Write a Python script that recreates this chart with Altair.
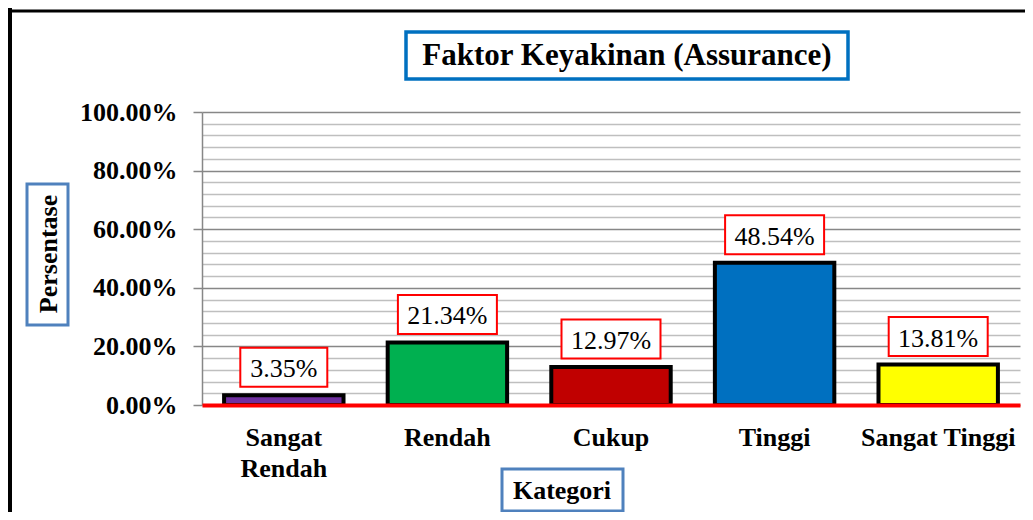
import altair as alt
import pandas as pd

categories = ["Sangat Rendah", "Rendah", "Cukup", "Tinggi", "Sangat Tinggi"]
values = [3.35, 21.34, 12.97, 48.54, 13.81]
labels = ["3.35%", "21.34%", "12.97%", "48.54%", "13.81%"]
colors = ["#7030A0", "#00B050", "#C00000", "#0070C0", "#FFFF00"]

title_text = "Faktor Keyakinan (Assurance)"
y_title = "Persentase"
x_title = "Kategori"

df = pd.DataFrame({"kategori": categories, "nilai": values, "label": labels, "warna": colors})
one = pd.DataFrame({"a": [0]})

FONT = "Liberation Serif"

x_enc = alt.X(
    "kategori:N",
    sort=categories,
    scale=alt.Scale(paddingInner=0.27, paddingOuter=0.135),
    axis=alt.Axis(
        title=None,
        labelExpr="datum.label == 'Sangat Rendah' ? ['Sangat', 'Rendah'] : datum.label",
        domainColor="#FF0000",
        domainWidth=4,
        ticks=False,
        tickSize=0,
        labelPadding=19,
        labelFont=FONT,
        labelFontSize=26,
        labelFontWeight="bold",
        labelColor="black",
        labelLineHeight=31,
        labelAngle=0,
        labelOverlap=False,
        zindex=1,
    ),
)

y_scale = alt.Scale(domain=[0, 100], nice=False)

y_axis = alt.Axis(
    title=None,
    values=list(range(0, 101, 4)),
    tickCount=100,
    labelExpr="datum.value % 20 === 0 ? format(datum.value, '.2f') + '%' : ''",
    grid=True,
    gridColor={"condition": {"test": "datum.value % 20 === 0", "value": "#878787"}, "value": "#BFBFBF"},
    gridWidth=1.5,
    domainColor="#878787",
    domainWidth=1.5,
    tickColor="#878787",
    tickWidth=1.5,
    tickSize=9,
    tickOpacity={"condition": {"test": "datum.value % 20 === 0", "value": 1}, "value": 0},
    labelFont=FONT,
    labelFontSize=26,
    labelFontWeight="bold",
    labelColor="black",
    labelPadding=16,
    labelOverlap=False,
)

bars = alt.Chart(df).mark_bar(stroke="black", strokeWidth=4).encode(
    x=x_enc,
    y=alt.Y("nilai:Q", scale=y_scale, axis=y_axis),
    color=alt.Color("warna:N", scale=None),
)

box_small = alt.Chart(df).transform_filter("length(datum.label) == 5").mark_bar(
    width=87, fill="white", stroke="#FF0000", strokeWidth=2, yOffset=-47.5, y2Offset=-8.5
).encode(x=x_enc, y=alt.Y("nilai:Q", scale=y_scale), y2="nilai:Q")

box_big = alt.Chart(df).transform_filter("length(datum.label) > 5").mark_bar(
    width=99, fill="white", stroke="#FF0000", strokeWidth=2, yOffset=-47.5, y2Offset=-8.5
).encode(x=x_enc, y=alt.Y("nilai:Q", scale=y_scale), y2="nilai:Q")

texts = alt.Chart(df).mark_text(
    font=FONT, fontSize=26, dy=-26, baseline="middle", color="black"
).encode(x=x_enc, y=alt.Y("nilai:Q", scale=y_scale), text="label:N")

# decorations (frame and boxed titles)
frame_left = alt.Chart(one).mark_rule(color="black", strokeWidth=4).encode(
    x=alt.value(-192), y=alt.value(-104), y2=alt.value(400)
)
frame_top = alt.Chart(one).mark_rule(color="black", strokeWidth=3).encode(
    x=alt.value(-194), x2=alt.value(823), y=alt.value(-101)
)

title_box = alt.Chart(one).mark_rect(fill="white", stroke="#0070C0", strokeWidth=3.5).encode(
    x=alt.value(204), x2=alt.value(646), y=alt.value(-80), y2=alt.value(-33)
)
title_txt = alt.Chart(one).mark_text(
    text=title_text, font=FONT, fontSize=31, fontWeight="bold", baseline="middle", color="black"
).encode(x=alt.value(425), y=alt.value(-56))

ytitle_box = alt.Chart(one).mark_rect(fill="white", stroke="#4F81BD", strokeWidth=3).encode(
    x=alt.value(-175), x2=alt.value(-134), y=alt.value(72), y2=alt.value(213)
)
ytitle_txt = alt.Chart(one).mark_text(
    text=y_title, font=FONT, fontSize=26, fontWeight="bold", baseline="middle", angle=270, color="black"
).encode(x=alt.value(-153), y=alt.value(142))

xtitle_box = alt.Chart(one).mark_rect(fill="white", stroke="#4F81BD", strokeWidth=3).encode(
    x=alt.value(300), x2=alt.value(421), y=alt.value(357), y2=alt.value(399)
)
xtitle_txt = alt.Chart(one).mark_text(
    text=x_title, font=FONT, fontSize=26, fontWeight="bold", baseline="middle", color="black"
).encode(x=alt.value(360), y=alt.value(379))

chart = alt.layer(
    bars, box_small, box_big, texts,
    frame_left, frame_top,
    title_box, title_txt, ytitle_box, ytitle_txt, xtitle_box, xtitle_txt,
).properties(
    width=818,
    height=293,
    padding={"left": 194, "top": 104, "right": 5, "bottom": 107},
    autosize=alt.AutoSizeParams(type="none"),
    background="white",
).configure_view(stroke=None)

chart.save("out.html", embed_options={"renderer": "svg", "actions": False})
